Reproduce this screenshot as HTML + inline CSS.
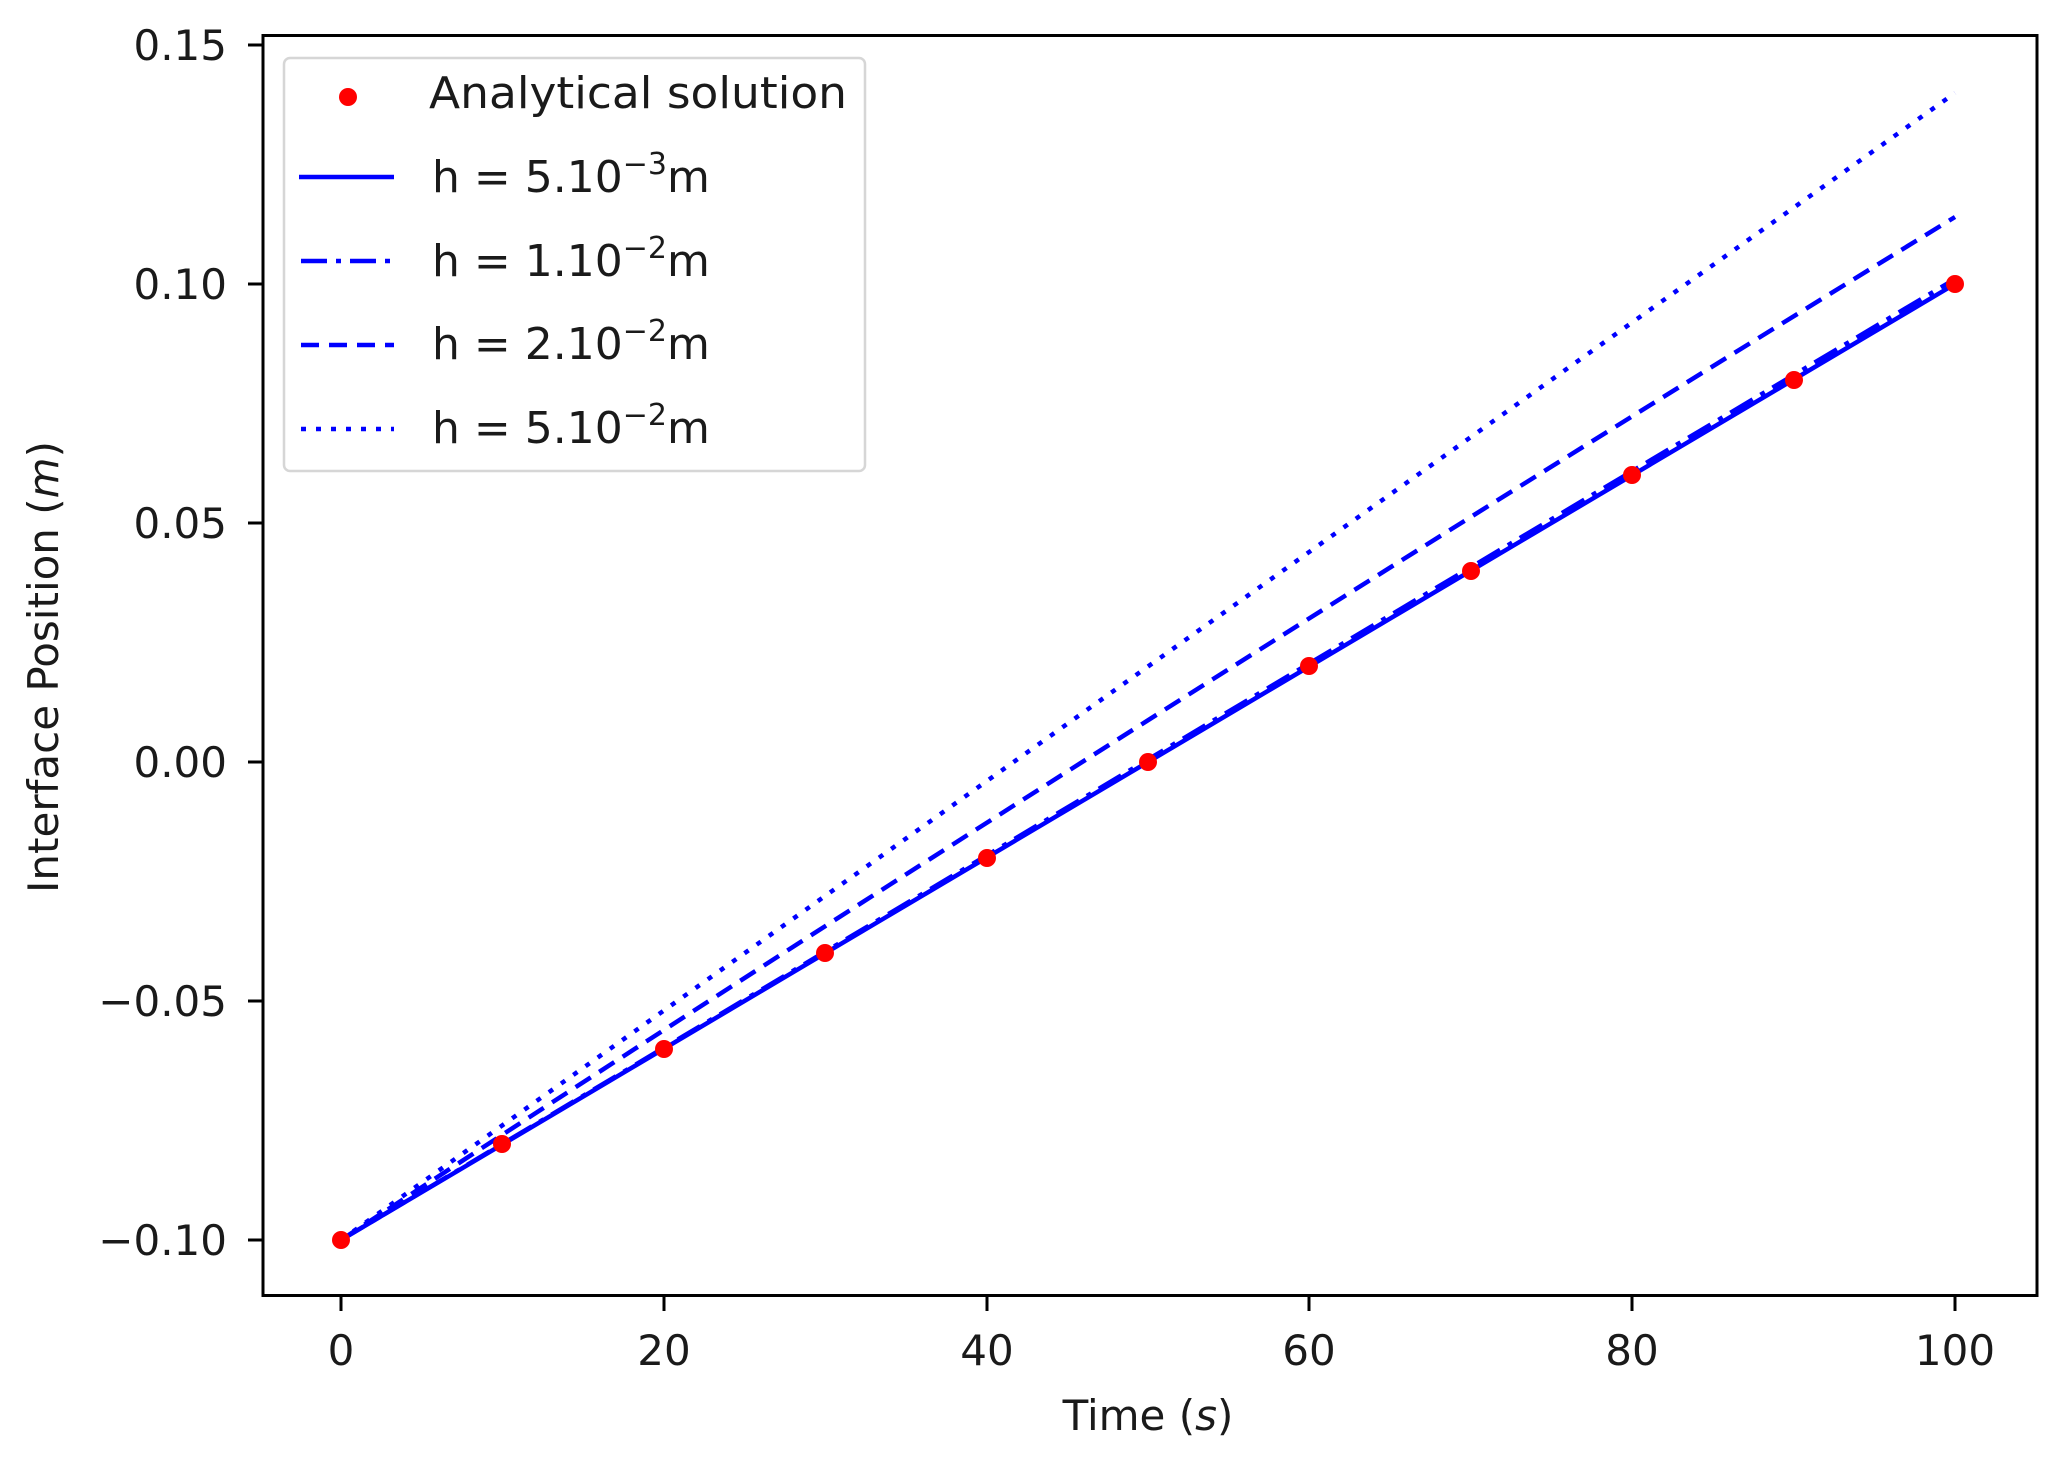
<!DOCTYPE html>
<html><head><meta charset="utf-8"><style>html,body{margin:0;padding:0;background:#fff}</style></head>
<body>
<svg width="2058" height="1461" viewBox="0 0 2058 1461" xmlns="http://www.w3.org/2000/svg" font-family="DejaVu Sans, Liberation Sans, sans-serif">
<rect width="2058" height="1461" fill="#fff"/>
<g stroke="#0000ff" stroke-width="4.5" fill="none">
<line x1="341" y1="1240" x2="1955" y2="284"/>
<line x1="341" y1="1240" x2="1955" y2="279" stroke-dasharray="26 9 5 9"/>
<path d="M341 1240 Q1148 712 1955 217" stroke-dasharray="18 10"/>
<line x1="341" y1="1240" x2="1955" y2="93" stroke-dasharray="5 10"/>
</g>
<g fill="#ff0000">
<circle cx="341" cy="1240" r="9"/><circle cx="502" cy="1144" r="9"/><circle cx="664" cy="1049" r="9"/>
<circle cx="825" cy="953" r="9"/><circle cx="987" cy="858" r="9"/><circle cx="1148" cy="762" r="9"/>
<circle cx="1309" cy="666" r="9"/><circle cx="1471" cy="571" r="9"/><circle cx="1632" cy="475" r="9"/>
<circle cx="1794" cy="380" r="9"/><circle cx="1955" cy="284" r="9"/>
</g>
<rect x="263" y="35.5" width="1774" height="1260" fill="none" stroke="#000" stroke-width="3"/>
<g stroke="#000" stroke-width="3">
<line x1="341" y1="1296" x2="341" y2="1311"/><line x1="664" y1="1296" x2="664" y2="1311"/>
<line x1="987" y1="1296" x2="987" y2="1311"/><line x1="1309" y1="1296" x2="1309" y2="1311"/>
<line x1="1632" y1="1296" x2="1632" y2="1311"/><line x1="1955" y1="1296" x2="1955" y2="1311"/>
<line x1="248" y1="45" x2="263" y2="45"/><line x1="248" y1="284" x2="263" y2="284"/>
<line x1="248" y1="523" x2="263" y2="523"/><line x1="248" y1="762" x2="263" y2="762"/>
<line x1="248" y1="1001" x2="263" y2="1001"/><line x1="248" y1="1240" x2="263" y2="1240"/>
</g>
<g font-size="42" fill="#1a1a1a" text-anchor="middle">
<text x="341" y="1365">0</text><text x="664" y="1365">20</text><text x="987" y="1365">40</text>
<text x="1309" y="1365">60</text><text x="1632" y="1365">80</text><text x="1955" y="1365">100</text>
</g>
<g font-size="42" fill="#1a1a1a" text-anchor="end">
<text x="227" y="60">0.15</text><text x="227" y="299">0.10</text><text x="227" y="538">0.05</text>
<text x="227" y="777">0.00</text><text x="227" y="1016">−0.05</text><text x="227" y="1255">−0.10</text>
</g>
<text x="1148" y="1430" font-size="42" fill="#1a1a1a" text-anchor="middle">Time (<tspan font-style="italic">s</tspan>)</text>
<text transform="translate(58,667) rotate(-90)" font-size="42" fill="#1a1a1a" text-anchor="middle">Interface Position (<tspan font-style="italic">m</tspan>)</text>
<rect x="284" y="58" width="581" height="413" rx="6" fill="#fff" stroke="#d6d6d6" stroke-width="2.5"/>
<circle cx="348" cy="97" r="9" fill="#ff0000"/>
<g stroke="#0000ff" stroke-width="4.5">
<line x1="299" y1="177" x2="394" y2="177"/>
<line x1="301" y1="261" x2="394" y2="261" stroke-dasharray="26 9 5 9"/>
<line x1="301" y1="345" x2="394" y2="345" stroke-dasharray="18 10"/>
<line x1="301" y1="429" x2="394" y2="429" stroke-dasharray="5 10"/>
</g>
<g font-size="44" fill="#1a1a1a">
<text x="429" y="108" textLength="418" lengthAdjust="spacingAndGlyphs">Analytical solution</text>
<text x="432" y="192">h = 5.10<tspan font-size="30" dy="-18">−3</tspan><tspan dy="18">m</tspan></text>
<text x="432" y="276">h = 1.10<tspan font-size="30" dy="-18">−2</tspan><tspan dy="18">m</tspan></text>
<text x="432" y="359">h = 2.10<tspan font-size="30" dy="-18">−2</tspan><tspan dy="18">m</tspan></text>
<text x="432" y="443">h = 5.10<tspan font-size="30" dy="-18">−2</tspan><tspan dy="18">m</tspan></text>
</g>
</svg>
</body></html>
